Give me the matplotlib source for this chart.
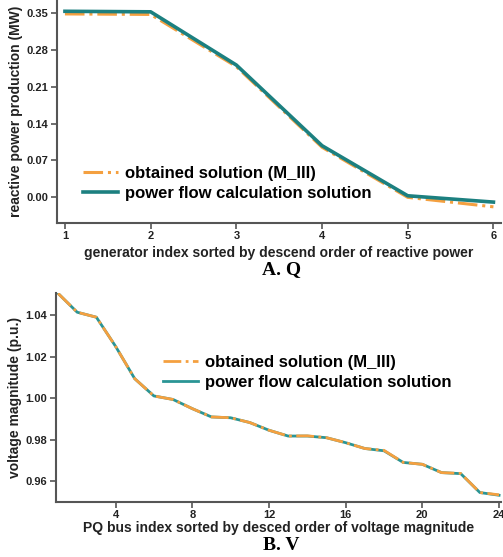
import numpy as np
import matplotlib.pyplot as plt

plt.rcParams['font.family'] = ['Liberation Sans', 'DejaVu Sans']

# panel A: reactive power of generators
gen_idx = [1, 2, 3, 4, 5, 6]
q_obtained = [0.348, 0.347, 0.248, 0.095, 0.000, -0.018]
q_powerflow = [0.353, 0.352, 0.251, 0.098, 0.003, -0.009]
q_ticks = [0.00, 0.07, 0.14, 0.21, 0.28, 0.35]

# panel B: voltage magnitude of PQ buses
bus_idx = list(range(1, 25))
v_obtained = [1.0505, 1.0414, 1.0390, 1.0250, 1.0094, 1.0011, 0.9994, 0.9950,
              0.9910, 0.9906, 0.9883, 0.9846, 0.9818, 0.9819, 0.9810, 0.9786,
              0.9758, 0.9749, 0.9691, 0.9682, 0.9642, 0.9638, 0.9546, 0.9535]
v_powerflow = [1.0505, 1.0414, 1.0390, 1.0250, 1.0094, 1.0011, 0.9994, 0.9950,
               0.9910, 0.9906, 0.9883, 0.9846, 0.9818, 0.9818, 0.9810, 0.9786,
               0.9758, 0.9747, 0.9691, 0.9682, 0.9642, 0.9637, 0.9546, 0.9533]
v_ticks = [0.96, 0.98, 1.00, 1.02, 1.04]
v_xticks = [4, 8, 12, 16, 20, 24]

orange = '#f4a040'
teal = '#1c8080'
spine_c = '#555555'

fig = plt.figure(figsize=(5.03, 5.57), dpi=100)


def style(ax):
    for s in ['top', 'right']:
        ax.spines[s].set_visible(False)
    for s in ['left', 'bottom']:
        ax.spines[s].set_color(spine_c)
        ax.spines[s].set_linewidth(1.5)
    ax.tick_params(direction='out', length=4, width=1.2, color=spine_c,
                   labelsize=8, pad=2)
    for lab in ax.get_xticklabels() + ax.get_yticklabels():
        lab.set_fontweight('bold')
        lab.set_color('#222222')


leg_kw = dict(frameon=False, prop={'size': 12, 'weight': 'bold'},
              handlelength=2.1, handletextpad=0.42, labelspacing=0.3,
              borderpad=0, borderaxespad=0, loc='upper left')

# Panel A
ax1 = fig.add_axes([0.1133, 0.5996, 0.883, 0.4])
ax1.plot(gen_idx, q_obtained, color=orange, linestyle='-.', linewidth=2.2,
         label='obtained solution (M_III)')
ax1.plot(gen_idx, q_powerflow, color=teal, linewidth=2.6,
         label='power flow calculation solution')
ax1.set_xlim(0.907, 6.09)
ax1.set_ylim(-0.0487, 0.374)
ax1.set_xticks(gen_idx)
ax1.set_yticks(q_ticks)
ax1.set_yticklabels(['%.2f' % t for t in q_ticks])
style(ax1)
ax1.set_ylabel('reactive power production (MW)', fontsize=10,
               fontweight='bold', color='#222222', labelpad=3)
ax1.set_xlabel('generator index sorted by descend order of reactive power',
               fontsize=10, fontweight='bold', color='#222222', labelpad=3)
ax1.legend(bbox_to_anchor=(83 / 503, 1 - 166 / 557),
           bbox_transform=fig.transFigure, **leg_kw)

# Panel B
ax2 = fig.add_axes([0.111, 0.0993, 0.885, 0.3752])
ax2.plot(bus_idx, v_powerflow, color='#2a9595', linewidth=2.0,
         label='power flow calculation solution')
ax2.plot(bus_idx, v_obtained, color=orange, linestyle='-.', linewidth=2.0,
         label='obtained solution (M_III)')
ax2.set_xlim(0.886, 24.1)
ax2.set_ylim(0.9502, 1.0508)
ax2.set_xticks(v_xticks)
ax2.set_yticks(v_ticks)
ax2.set_yticklabels(['%.2f' % t for t in v_ticks])
style(ax2)
ax2.set_ylabel('voltage magnitude (p.u.)', fontsize=10,
               fontweight='bold', color='#222222', labelpad=3)
ax2.set_xlabel('PQ bus index sorted by desced order of voltage magnitude',
               fontsize=10, fontweight='bold', color='#222222', labelpad=1)
h, l = ax2.get_legend_handles_labels()
ax2.legend(h[::-1], l[::-1], bbox_to_anchor=(163 / 503, 1 - 355 / 557),
           bbox_transform=fig.transFigure, **leg_kw)

fig.text(0.56, 1 - 270 / 557, 'A. Q', family='Liberation Serif',
         fontsize=14, fontweight='bold', ha='center', va='center')
fig.text(0.56, 1 - 546 / 557, 'B. V', family='Liberation Serif',
         fontsize=14, fontweight='bold', ha='center', va='center')

fig.savefig('out.png', dpi=100)
